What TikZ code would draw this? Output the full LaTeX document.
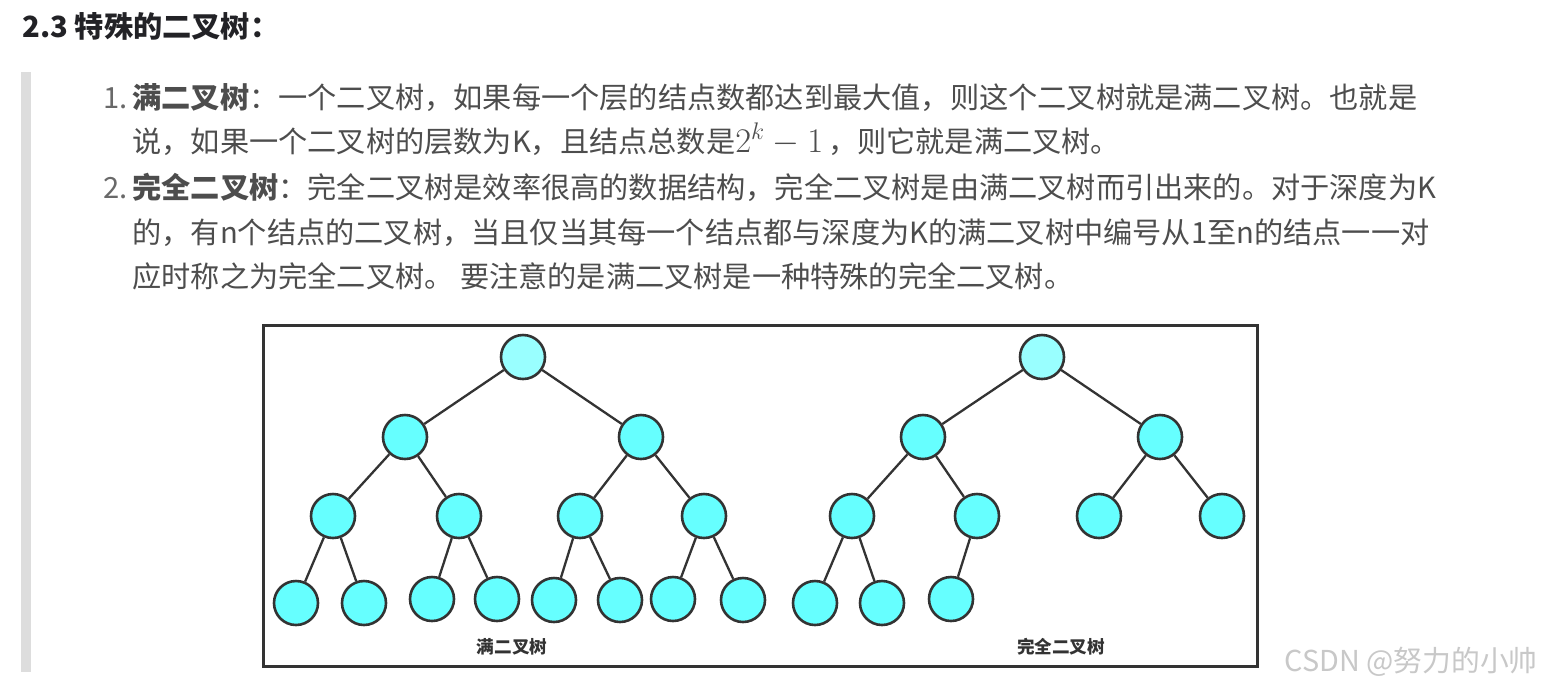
\documentclass[tikz,border=0pt]{standalone}
\usepackage{fontspec}
\setmainfont{Noto Sans CJK SC}
\usepackage{tikz}
\usepackage{xcolor}
\definecolor{Ink}{RGB}{51,51,51}
\definecolor{Head}{RGB}{34,34,38}
\definecolor{Body}{RGB}{77,77,77}
\definecolor{Marker}{RGB}{105,105,105}
\definecolor{Bar}{RGB}{221,221,221}
\definecolor{Aqua}{RGB}{102,255,255}
\definecolor{PaleAqua}{RGB}{153,255,255}
\definecolor{Mark}{RGB}{200,200,200}
\newcommand{\bigmath}[1]{{\fontsize{17.6}{18}\selectfont$#1$}}
\tikzset{
  bnode/.style={circle,draw=Ink,fill=Aqua,line width=1.3pt,
                minimum size=22pt,inner sep=0pt},
  broot/.style={bnode,fill=PaleAqua},
  bedge/.style={Ink,line width=1.15pt},
  tline/.style={anchor=base west,inner sep=0pt,text=Body,
                font=\fontsize{14.6}{18}\selectfont},
  tmark/.style={tline,text=Marker},
  thead/.style={tline,text=Head,font=\fontsize{14.6}{18}\selectfont\bfseries},
  tlabel/.style={inner sep=0pt,text=Ink,font=\fontsize{8.8}{10}\selectfont\bfseries},
}

\begin{document}
\begin{tikzpicture}[x=0.5pt,y=-0.5pt]
  \useasboundingbox (0,0) rectangle (1545,692);
  \fill[white] (0,0) rectangle (1545,692);
  \node[thead] (head) at (22,37) {2.3 特殊的二叉树：};
  \fill[Bar] (21,72) rectangle (31,672);
  %
  \node[tmark] (m1) at (103,108) {1.};
  \node[tline] (l1a) at (132,108) {{\bfseries 满二叉树}：一个二叉树，如果每一个层的结点数都达到最大值，则这个二叉树就是满二叉树。也就是};
  \node[tline] (l1b) at (132,152) {说，如果一个二叉树的层数为K，且结点总数是\bigmath{2^{k}-1}\,，则它就是满二叉树。};
  \node[tmark] (m2) at (103,198) {2.};
  \node[tline] (l2a) at (132,198) {{\bfseries 完全二叉树}：完全二叉树是效率很高的数据结构，完全二叉树是由满二叉树而引出来的。对于深度为K};
  \node[tline] (l2b) at (132,243) {的，有n个结点的二叉树，当且仅当其每一个结点都与深度为K的满二叉树中编号从1至n的结点一一对};
  \node[tline] (l2c) at (132,287) {应时称之为完全二叉树。 要注意的是满二叉树是一种特殊的完全二叉树。};
  %
  \draw[Ink,line width=1.5pt] (263,325) rectangle (1257,666);
  % full tree
  \node[broot] (f0) at (523,357) {};
  \node[bnode] (f1) at (405,437) {};
  \node[bnode] (f2) at (641,437) {};
  \node[bnode] (f3) at (333,516) {};
  \node[bnode] (f4) at (459,516) {};
  \node[bnode] (f5) at (580,516) {};
  \node[bnode] (f6) at (704,516) {};
  \node[bnode] (f7) at (296,603) {};
  \node[bnode] (f8) at (364,603) {};
  \node[bnode] (f9) at (432,599) {};
  \node[bnode] (f10) at (497,599) {};
  \node[bnode] (f11) at (554,600) {};
  \node[bnode] (f12) at (620,600) {};
  \node[bnode] (f13) at (673,599) {};
  \node[bnode] (f14) at (743,600) {};
  \draw[bedge] (f0) -- (f1);
  \draw[bedge] (f0) -- (f2);
  \draw[bedge] (f1) -- (f3);
  \draw[bedge] (f1) -- (f4);
  \draw[bedge] (f2) -- (f5);
  \draw[bedge] (f2) -- (f6);
  \draw[bedge] (f3) -- (f7);
  \draw[bedge] (f3) -- (f8);
  \draw[bedge] (f4) -- (f9);
  \draw[bedge] (f4) -- (f10);
  \draw[bedge] (f5) -- (f11);
  \draw[bedge] (f5) -- (f12);
  \draw[bedge] (f6) -- (f13);
  \draw[bedge] (f6) -- (f14);
  \node[tlabel] (fname) at (512,647) {满二叉树};
  % complete tree
  \node[broot] (c0) at (1042,357) {};
  \node[bnode] (c1) at (923,437) {};
  \node[bnode] (c2) at (1160,437) {};
  \node[bnode] (c3) at (852,516) {};
  \node[bnode] (c4) at (977,516) {};
  \node[bnode] (c5) at (1099,516) {};
  \node[bnode] (c6) at (1222,516) {};
  \node[bnode] (c7) at (815,603) {};
  \node[bnode] (c8) at (882,603) {};
  \node[bnode] (c9) at (951,599) {};
  \draw[bedge] (c0) -- (c1);
  \draw[bedge] (c0) -- (c2);
  \draw[bedge] (c1) -- (c3);
  \draw[bedge] (c1) -- (c4);
  \draw[bedge] (c2) -- (c5);
  \draw[bedge] (c2) -- (c6);
  \draw[bedge] (c3) -- (c7);
  \draw[bedge] (c3) -- (c8);
  \draw[bedge] (c4) -- (c9);
  \node[tlabel] (cname) at (1061,647) {完全二叉树};
  %
  \node[anchor=base east,inner sep=0pt,text=Mark,font=\fontsize{14.4}{16}\selectfont] (wmark) at (1538,671) {CSDN @努力的小帅};
\end{tikzpicture}
\end{document}
